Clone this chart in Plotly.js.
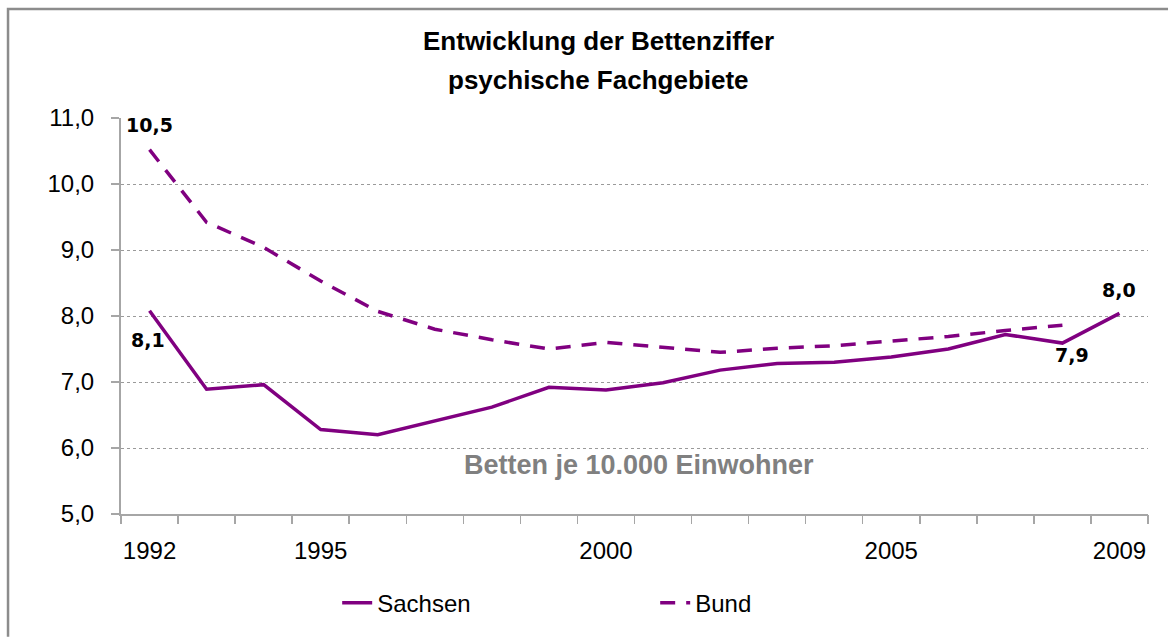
<!DOCTYPE html>
<html>
<head>
<meta charset="utf-8">
<script src="https://cdn.plot.ly/plotly-3.0.1.min.js"></script>
<style>html,body{margin:0;padding:0;background:#fff;}#chart{width:1173px;height:638px;}</style>
</head>
<body>
<div id="chart"></div>
<script>
const years = [1992,1993,1994,1995,1996,1997,1998,1999,2000,2001,2002,2003,2004,2005,2006,2007,2008,2009];
const sachsen = [8.08,6.89,6.96,6.28,6.20,6.41,6.62,6.92,6.88,6.99,7.18,7.28,7.30,7.38,7.50,7.72,7.59,8.04];
const bund = [10.52,9.42,9.04,8.53,8.07,7.80,7.64,7.50,7.60,7.52,7.45,7.51,7.55,7.62,7.69,7.78,7.86,null];
const xTickYears = [1992,1995,2000,2005,2009];
const titleLines = ["Entwicklung der Bettenziffer","psychische Fachgebiete"];
const unitNote = "Betten je 10.000 Einwohner";
const seriesNames = ["Sachsen","Bund"];
// labelled points: [series, year index, xshift, yshift]
const labelled = [["Bund",0,0,25],["Sachsen",0,-2,-29],["Bund",16,10,-30],["Sachsen",17,0,23]];

const purple = "#800080";
const fmt = v => v.toFixed(1).replace('.', ',');
const boundaries = years.map(y => y - 0.5).concat([years[years.length-1] + 0.5]);

const traces = [
  {x: years, y: sachsen, name: seriesNames[0], mode: 'lines', type: 'scatter',
   line: {color: purple, width: 3.5}},
  {x: years, y: bund, name: seriesNames[1], mode: 'lines', type: 'scatter',
   line: {color: purple, width: 3.5, dash: '15px,11px'}},
  {x: years, y: years.map(() => null), xaxis: 'x2', showlegend: false, hoverinfo: 'skip', mode: 'lines'}
];

const seriesData = {Sachsen: sachsen, Bund: bund};
const annotations = labelled.map(([s, i, dx, dy]) => ({
  x: years[i], y: seriesData[s][i], xref: 'x', yref: 'y', text: fmt(seriesData[s][i]),
  showarrow: false, xshift: dx, yshift: dy, yanchor: 'middle', xanchor: 'center',
  font: {family: 'DejaVu Sans', size: 19, color: '#000', weight: 'bold'}
}));
annotations.push(
  {x: 0.4645, y: 1.195, xref: 'paper', yref: 'paper', text: '<b>' + titleLines[0] + '</b>', showarrow: false,
   yanchor: 'middle', xanchor: 'center', font: {family: 'Liberation Sans', size: 26, color: '#000'}},
  {x: 0.4645, y: 1.095, xref: 'paper', yref: 'paper', text: '<b>' + titleLines[1] + '</b>', showarrow: false,
   yanchor: 'middle', xanchor: 'center', font: {family: 'Liberation Sans', size: 26, color: '#000'}},
  {x: 0.504, y: 0.1225, xref: 'paper', yref: 'paper', text: '<b>' + unitNote + '</b>', showarrow: false,
   yanchor: 'middle', xanchor: 'center', font: {family: 'Liberation Sans', size: 27, color: '#808080'}}
);

const layout = {
  width: 1173, height: 638,
  margin: {l: 121, r: 25, t: 118, b: 118},
  paper_bgcolor: '#fff', plot_bgcolor: '#fff',
  separators: ',.',
  showlegend: true,
  legend: {orientation: 'h', x: 0.2105, xanchor: 'left', y: -0.225, yanchor: 'middle',
           font: {family: 'Liberation Sans', size: 24, color: '#000'}, entrywidth: 273, entrywidthmode: 'pixels'},
  xaxis: {range: [1991.5, 2009.5], tickmode: 'array', tickvals: xTickYears, ticktext: xTickYears.map(String),
          ticks: '', showgrid: false, zeroline: false, showline: true, linecolor: '#a6a6a6', linewidth: 2,
          ticklabelstandoff: 14,
          tickfont: {family: 'Liberation Sans', size: 24, color: '#000'}},
  xaxis2: {overlaying: 'x', range: [1991.5, 2009.5], tickmode: 'array', tickvals: boundaries,
           showticklabels: false, ticks: 'outside', ticklen: 9, tickwidth: 1.5, tickcolor: '#a6a6a6',
           showgrid: false, zeroline: false, showline: false, side: 'bottom', anchor: 'y'},
  yaxis: {range: [5, 11], dtick: 1, tick0: 5, tickformat: '.1f', ticks: 'outside', ticklen: 8,
          tickcolor: '#a6a6a6', tickwidth: 1.5,
          showline: true, linecolor: '#a6a6a6', linewidth: 2, zeroline: false,
          showgrid: true, gridcolor: '#9a9a9a', griddash: 'dot', gridwidth: 1,
          ticklabelstandoff: 12,
          tickfont: {family: 'Liberation Sans', size: 24, color: '#000'}},
  annotations: annotations,
  shapes: [{type: 'path', xref: 'paper', yref: 'paper',
            path: 'M -0.110,-0.31 L -0.110,1.275 L 1.0195,1.275',
            line: {color: '#8c8c8c', width: 2.5}}]
};

Plotly.newPlot('chart', traces, layout, {displayModeBar: false, staticPlot: true});
</script>
</body>
</html>
